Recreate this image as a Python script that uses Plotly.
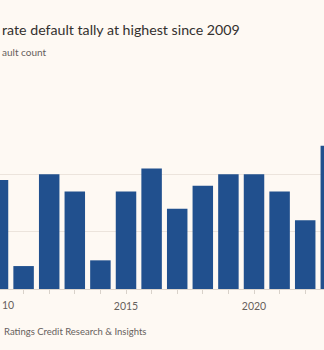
import plotly.graph_objects as go

years = [2010, 2011, 2012, 2013, 2014, 2015, 2016, 2017, 2018, 2019, 2020, 2021, 2022, 2023]
defaults = [19, 4, 20, 17, 5, 17, 21, 14, 18, 20, 20, 17, 12, 25]
tick_text = ["" if y not in (2015, 2020) else str(y) for y in years]

BG = "#FEF9F3"
BAR = "#21508E"
FONT = "Lato"

fig = go.Figure(go.Bar(x=years, y=defaults, marker=dict(color=BAR, line=dict(width=0))))

fig.update_layout(
    width=324, height=350,
    paper_bgcolor=BG, plot_bgcolor=BG,
    margin=dict(l=0, r=0, t=116, b=61, pad=0),
    bargap=0.2,
    showlegend=False,
    font=dict(family=FONT, color="#66605C"),
)
fig.update_xaxes(
    range=[2010.078, 2022.734],
    tickmode="array",
    tickvals=years,
    ticktext=tick_text,
    ticks="outside", ticklen=4, tickcolor="#D9D2CA", tickwidth=1,
    ticklabelstandoff=3,
    tickfont=dict(size=10.5, color="#66605C"),
    showgrid=False, showline=False, zeroline=False,
)
fig.update_yaxes(
    range=[0, 30.17], tickvals=[0, 10, 20, 30], showticklabels=False,
    gridcolor="#ECE4DC", gridwidth=1,
    zeroline=True, zerolinecolor="#DCD5CD", zerolinewidth=1,
)

PH = 173.0  # plot height in px
def py(pix):
    return (289 - pix) / PH

# visible fragment of the cropped "2010" tick label
fig.add_annotation(text="10", xref="paper", yref="paper", x=0, y=py(305),
                   xanchor="left", yanchor="middle", showarrow=False,
                   font=dict(size=10.5, color="#66605C", family=FONT))
fig.add_annotation(text="rate default tally at highest since 2009",
                   xref="paper", yref="paper", x=0, y=py(29),
                   xanchor="left", yanchor="middle", showarrow=False,
                   font=dict(size=14.2, color="#33302E", family=FONT))
fig.add_annotation(text="ault count",
                   xref="paper", yref="paper", x=0, y=py(52),
                   xanchor="left", yanchor="middle", showarrow=False,
                   font=dict(size=10, color="#66605C", family=FONT))
fig.add_annotation(text="Ratings Credit Research &amp; Insights",
                   xref="paper", yref="paper", x=2 / 324, y=py(331),
                   xanchor="left", yanchor="middle", showarrow=False,
                   font=dict(size=9.5, color="#66605C", family=FONT))

fig.write_html("out.html")
